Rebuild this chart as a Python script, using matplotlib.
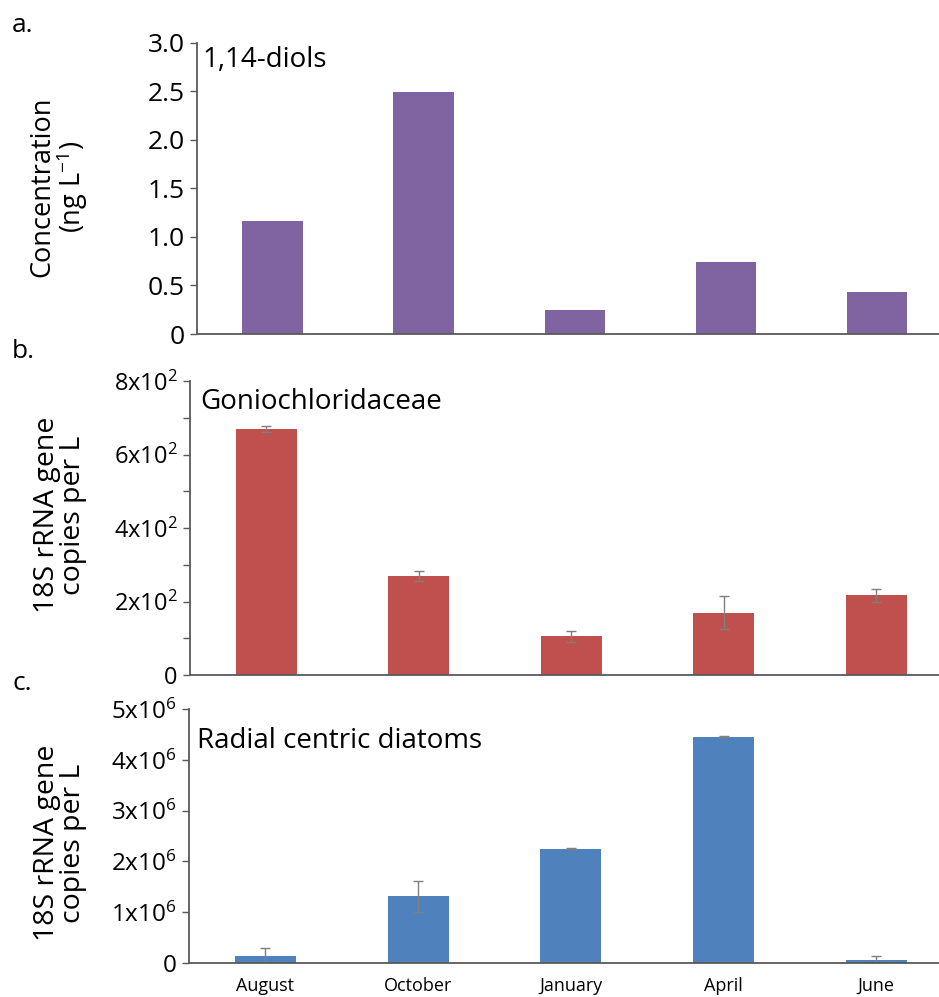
import matplotlib
matplotlib.use("Agg")
import numpy as np
import matplotlib.pyplot as plt

plt.rcParams['font.family'] = ['Open Sans', 'DejaVu Sans']
plt.rcParams['mathtext.fontset'] = 'custom'
plt.rcParams['mathtext.rm'] = 'Open Sans'
plt.rcParams['mathtext.it'] = 'Open Sans:italic'

months = ['August', 'October', 'January', 'April', 'June']

# a. 1,14-diols concentration (ng/L)
diols = [1.17, 2.49, 0.25, 0.74, 0.43]
a_ticks = [0, 0.5, 1.0, 1.5, 2.0, 2.5, 3.0]
a_ticklabels = ['0', '0.5', '1.0', '1.5', '2.0', '2.5', '3.0']

# b. Goniochloridaceae 18S copies per L
gonio = [669, 270, 106, 170, 217]
gonio_err = [8, 13, 15, 44, 17]
b_ticks = [0, 100, 200, 300, 400, 500, 600, 700, 800]
b_ticklabels = ['0', '', '2x10$^2$', '', '4x10$^2$', '', '6x10$^2$', '', '8x10$^2$']

# c. Radial centric diatoms 18S copies per L
diatoms = [0.13e6, 1.31e6, 2.25e6, 4.45e6, 0.06e6]
diatoms_err = [0.16e6, 0.30e6, 0.01e6, 0.01e6, 0.08e6]
c_ticks = [0, 1e6, 2e6, 3e6, 4e6, 5e6]
c_ticklabels = ['0', '1x10$^6$', '2x10$^6$', '3x10$^6$', '4x10$^6$', '5x10$^6$']

W, H = 939, 997
fig = plt.figure(figsize=(W / 100, H / 100), dpi=100)

axis_col = '#595959'
x = np.arange(len(months))


def style(ax, ymax):
    for s in ['top', 'right']:
        ax.spines[s].set_visible(False)
    for s in ['left', 'bottom']:
        ax.spines[s].set_color(axis_col)
        ax.spines[s].set_linewidth(1.3)
    ax.set_xlim(-0.5, 4.41)
    ax.set_ylim(0, ymax)
    ax.tick_params(axis='y', direction='out', length=5, width=1, color=axis_col, pad=4)
    ax.tick_params(axis='x', length=0)


def px(x0, y0, x1, y1):
    # pixel box -> figure fraction [left, bottom, width, height]
    return [x0 / W, 1 - y1 / H, (x1 - x0) / W, (y1 - y0) / H]


# panel a
axa = fig.add_axes(px(197, 43, 939, 334))
axa.bar(x, diols, width=0.4, color='#8064A2')
style(axa, 3.0)
axa.set_yticks(a_ticks)
axa.set_yticklabels(a_ticklabels, fontsize=19)
axa.set_xticks([])

# panel b
axb = fig.add_axes(px(190, 381, 939, 675))
axb.bar(x, gonio, width=0.4, color='#C0504D', yerr=gonio_err,
        error_kw=dict(ecolor='#7f7f7f', elinewidth=1, capsize=3.5, capthick=1))
style(axb, 800)
axb.set_yticks(b_ticks)
axb.set_yticklabels(b_ticklabels, fontsize=17)
axb.set_xticks([])

# panel c
axc = fig.add_axes(px(189, 709, 939, 963))
axc.bar(x, diatoms, width=0.4, color='#4F81BD', yerr=diatoms_err,
        error_kw=dict(ecolor='#7f7f7f', elinewidth=1, capsize=3.5, capthick=1))
style(axc, 5e6)
axc.set_yticks(c_ticks)
axc.set_yticklabels(c_ticklabels, fontsize=17.5)
axc.set_xticks(x)
axc.set_xticklabels(months, fontsize=13)
axc.tick_params(axis='x', pad=10)

# panel letters
fig.text(12 / W, 1 - 32 / H, 'a.', fontsize=19, va='baseline')
fig.text(12 / W, 1 - 358 / H, 'b.', fontsize=19, va='baseline')
fig.text(12 / W, 1 - 690 / H, 'c.', fontsize=19, va='baseline')

# panel titles
fig.text(202 / W, 1 - 67 / H, '1,14-diols', fontsize=20, va='baseline')
fig.text(200 / W, 1 - 409 / H, 'Goniochloridaceae', fontsize=20, va='baseline')
fig.text(197 / W, 1 - 748 / H, 'Radial centric diatoms', fontsize=20, va='baseline')

# y labels
fig.text(59 / W, 1 - 187 / H, 'Concentration\n(ng L$^{-1}$)', fontsize=19.5, rotation=90,
         ha='center', va='center', multialignment='center', linespacing=0.95)
fig.text(60 / W, 1 - 515 / H, '18S rRNA gene\ncopies per L', fontsize=20.5, rotation=90,
         ha='center', va='center', multialignment='center', linespacing=0.95)
fig.text(60 / W, 1 - 843 / H, '18S rRNA gene\ncopies per L', fontsize=20.5, rotation=90,
         ha='center', va='center', multialignment='center', linespacing=0.95)

fig.savefig('out.png', dpi=100)
